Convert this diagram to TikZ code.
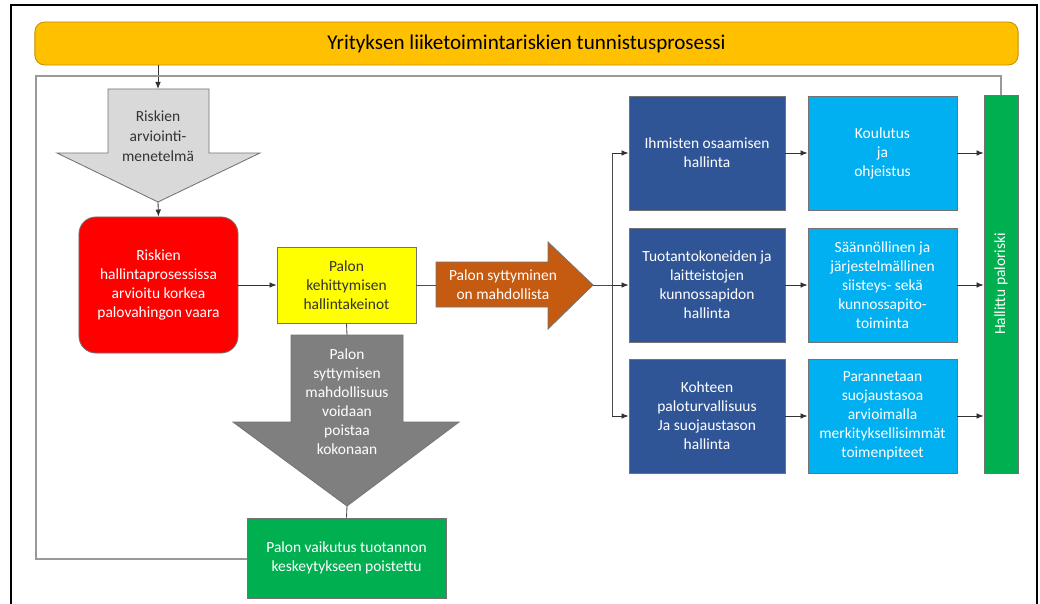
\documentclass[tikz,border=0pt]{standalone}
\usepackage{fontspec}
\setmainfont{Carlito}
\usepackage{xcolor}
\usetikzlibrary{shapes,backgrounds,calc,arrows.meta}

\definecolor{bannerfill}{HTML}{FFC000}
\definecolor{bannerdraw}{HTML}{BF9000}
\definecolor{riskred}{HTML}{FF0000}
\definecolor{paleyellow}{HTML}{FFFF00}
\definecolor{firebrown}{HTML}{C55A11}
\definecolor{darkblue}{HTML}{2F5597}
\definecolor{lightblue}{HTML}{00B0F0}
\definecolor{okgreen}{HTML}{00B050}
\definecolor{palegray}{HTML}{D9D9D9}
\definecolor{midgray}{HTML}{7F7F7F}

\begin{document}
\begin{tikzpicture}[x=0.025cm,y=-0.025cm]
        \tikzstyle{box}=[draw=black!55, line width=0.6pt, align=center, inner sep=1pt, text=white, font=\fontsize{11}{13.5}\selectfont];
        \tikzstyle{conn}=[draw=black!80, line width=0.6pt, -{Latex[length=5pt,width=4pt]}];
        \tikzstyle{plain}=[draw=black!70, line width=0.6pt];
        \tikzstyle{loopline}=[draw=black!40, line width=1.2pt];
        \tikzstyle{bigarrow}=[draw=black!55, line width=0.6pt];
        % Page size and the black slide frame
        \clip (0,0) rectangle (1040,604);
        \fill[white] (0,0) rectangle (1040,604);
        \draw[black, line width=1.6pt] (11,5) rectangle (1037,650);

        % Top banner
        \node[box, fill=bannerfill, draw=bannerdraw, rounded corners=7pt, minimum width=24.575cm, minimum height=1.075cm, text=black, font=\fontsize{15}{17}\selectfont] (banner) at (526.5,43.5) {Yrityksen liiketoimintariskien tunnistusprosessi};

        % Light gray arrow for the assessment method
        \coordinate (ratop) at (158,89);
        \coordinate (ratip) at (158,202);
        \draw[bigarrow, fill=palegray] (108,89) -- (209,89) -- (209,153) -- (260,153) -- (ratip) -- (57,153) -- (108,153) -- cycle;
        \node[align=center, text=black!80, font=\fontsize{11}{14}\selectfont] (method) at (158,136) {Riskien\\arviointi-\\menetelmä};

        % Red box
        \node[box, fill=riskred, rounded corners=12pt, minimum width=3.975cm, minimum height=3.4cm] (risk) at (158.5,285) {Riskien\\hallintaprosessissa\\arvioitu korkea\\palovahingon vaara};

        % Yellow box
        \node[box, fill=paleyellow, text=black!80, minimum width=3.475cm, minimum height=1.9cm] (means) at (346.5,285) {Palon\\kehittymisen\\hallintakeinot};

        % Orange arrow
        \coordinate (fatail) at (436,285);
        \coordinate (fatip) at (593,285);
        \draw[bigarrow, fill=firebrown] (436,262) -- (548,262) -- (548,242) -- (fatip) -- (548,329) -- (548,307) -- (436,307) -- cycle;
        \node[align=center, text=white, font=\fontsize{11}{13.5}\selectfont] (ignite) at (503,285) {Palon syttyminen\\on mahdollista};

        % Dark gray arrow
        \coordinate (dgtop) at (347,335);
        \coordinate (dgtip) at (347,506);
        \draw[bigarrow, fill=midgray] (291,335) -- (403,335) -- (403,422) -- (459,422) -- (dgtip) -- (233,422) -- (291,422) -- cycle;
        \node[align=center, text=white, font=\fontsize{11}{13.5}\selectfont] (remove) at (347,402) {Palon\\syttymisen\\mahdollisuus\\voidaan\\poistaa\\kokonaan};

        % Green box at the bottom
        \node[box, fill=okgreen, minimum width=4.975cm, minimum height=2cm] (effect) at (346.5,558) {Palon vaikutus tuotannon\\keskeytykseen poistettu};

        % Dark blue and light blue columns
        \node[box, fill=darkblue, minimum width=3.9cm, minimum height=2.85cm] (people) at (707,153) {Ihmisten osaamisen\\hallinta};
        \node[box, fill=darkblue, minimum width=3.9cm, minimum height=2.85cm] (machines) at (707,285) {Tuotantokoneiden ja\\laitteistojen\\kunnossapidon\\hallinta};
        \node[box, fill=darkblue, minimum width=3.9cm, minimum height=2.85cm] (site) at (707,416) {Kohteen\\paloturvallisuus\\Ja suojaustason\\hallinta};
        \node[box, fill=lightblue, minimum width=3.725cm, minimum height=2.85cm] (training) at (882.5,153) {Koulutus\\ja\\ohjeistus};
        \node[box, fill=lightblue, minimum width=3.725cm, minimum height=2.85cm] (upkeep) at (882.5,285) {Säännöllinen ja\\järjestelmällinen\\siisteys- sekä\\kunnossapito-\\toiminta};
        \node[box, fill=lightblue, minimum width=3.725cm, minimum height=2.85cm] (protect) at (882.5,416) {Parannetaan\\suojaustasoa\\arvioimalla\\merkityksellisimmät\\toimenpiteet};

        % Tall green bar
        \node[box, fill=okgreen, minimum width=0.85cm, minimum height=9.45cm] (bar) at (1001,284) {};
        \node[rotate=90, text=white, font=\fontsize{11}{13.5}\selectfont] (barlabel) at (bar.center) {Hallittu paloriski};

        % Connectors
        \draw[conn] (ratop |- banner.south) -- (ratop);
        \draw[conn] (ratip) -- (risk.north);
        \draw[conn] (risk.east) -- (means.west);
        \draw[plain] (means.east) -- (fatail);
        \draw[plain] (means.south) -- (dgtop);
        \draw[plain] (dgtip) -- (effect.north);
        \coordinate (branch) at (612,285);
        \draw[plain] (fatip) -- (branch);
        \draw[plain] (branch |- people.west) -- (branch |- site.west);
        \draw[conn] (branch |- people.west) -- (people.west);
        \draw[conn] (branch) -- (machines.west);
        \draw[conn] (branch |- site.west) -- (site.west);
        \draw[conn] (people.east) -- (training.west);
        \draw[conn] (machines.east) -- (upkeep.west);
        \draw[conn] (site.east) -- (protect.west);
        \draw[conn] (training.east) -- (training.east -| bar.west);
        \draw[conn] (upkeep.east) -- (upkeep.east -| bar.west);
        \draw[conn] (protect.east) -- (protect.east -| bar.west);

        % Feedback loop
        \draw[loopline] (bar.north) -- (1001,76) -- (36,76) -- (36,559) -- (effect.west |- 0,559);
\end{tikzpicture}
\end{document}
